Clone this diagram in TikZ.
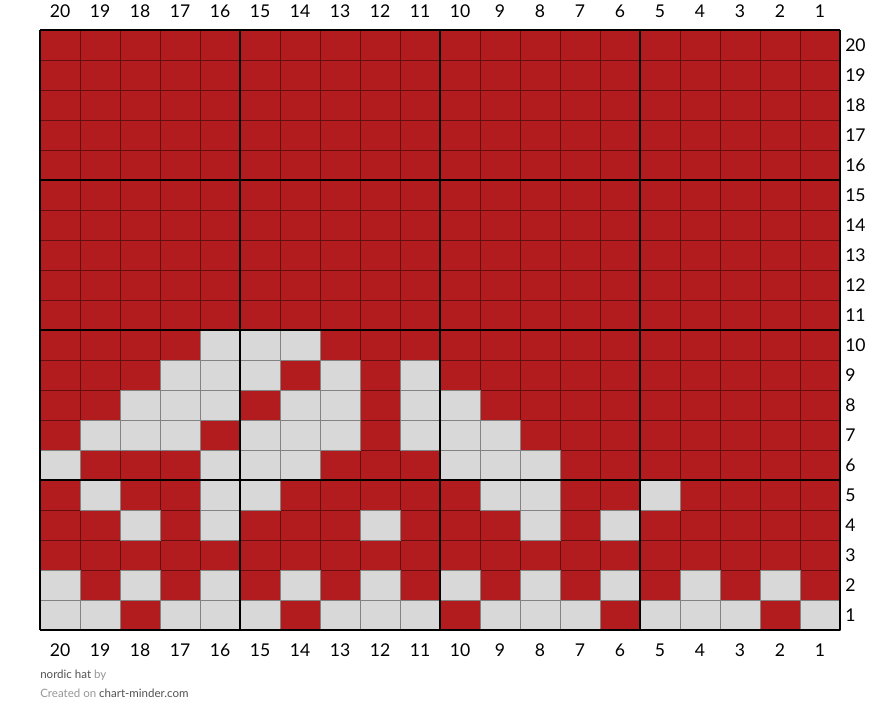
\documentclass[tikz,border=0pt]{standalone}
\usepackage{fontspec}
\setmainfont{Lato}
\definecolor{knitred}{RGB}{178,28,30}
\definecolor{knitgray}{RGB}{216,216,216}
\definecolor{redline}{RGB}{100,14,16}
\definecolor{grayline}{RGB}{130,130,130}
\definecolor{footdark}{RGB}{80,80,80}
\definecolor{footlight}{RGB}{150,150,150}
\begin{document}
\begin{tikzpicture}[x=0.025cm, y=-0.025cm,
    litecell/.style={fill=knitgray, draw=grayline, line width=0.5pt},
    thin/.style={redline, line width=0.5pt},
    major/.style={black, line width=1.4pt},
    num/.style={font=\fontsize{12.5}{14}\selectfont, inner sep=0pt},
    foot/.style={font=\fontsize{8.2}{10}\selectfont, inner sep=0pt, anchor=west}
  ]
    \useasboundingbox (0,0) rectangle (880,723);

    %% Red background ─────────────────────────
    \fill[knitred] (40,30) rectangle (840,630);
    \foreach \i in {1,...,19} {
      \draw[thin] (40+40*\i,30) -- (40+40*\i,630);
      \draw[thin] (40,30+30*\i) -- (840,30+30*\i);
    }

    %% Light stitches (row/columns) ───────────
    \foreach \r/\cols in {10/{16,15,14},
                          9/{17,16,15,13,11},
                          8/{18,17,16,14,13,11,10},
                          7/{19,18,17,15,14,13,11,10,9},
                          6/{20,16,15,14,10,9,8},
                          5/{19,16,15,9,8,5},
                          4/{18,16,12,8,6},
                          2/{20,18,16,14,12,10,8,6,4,2},
                          1/{20,19,17,16,15,13,12,11,9,8,7,5,4,3,1}} {
      \foreach \c in \cols {
        \draw[litecell] ({40+(20-\c)*40},{30+(20-\r)*30})
          rectangle ++(40,30);
      }
    }

    %% Major lines ────────────────────────────
    \foreach \i in {0,...,4} {
      \draw[major] (40+200*\i,30) -- (40+200*\i,630);
      \draw[major] (40,30+150*\i) -- (840,30+150*\i);
    }

    %% Column and row numbers ─────────────────
    \foreach \c in {1,...,20} {
      \node[num] (top\c) at ({60+(20-\c)*40},11) {\c};
      \node[num] (bot\c) at ({60+(20-\c)*40},650) {\c};
    }
    \foreach \r in {1,...,20} {
      \node[num, anchor=west] (row\r) at (845,{45+(20-\r)*30}) {\r};
    }

    %% Footer ─────────────────────────────────
    \node[foot] (title) at (40,675)
      {\textcolor{footdark}{nordic hat} \textcolor{footlight}{by}};
    \node[foot] (site) at (40,693)
      {\textcolor{footlight}{Created on} \textcolor{footdark}{chart-minder.com}};
\end{tikzpicture}
\end{document}
